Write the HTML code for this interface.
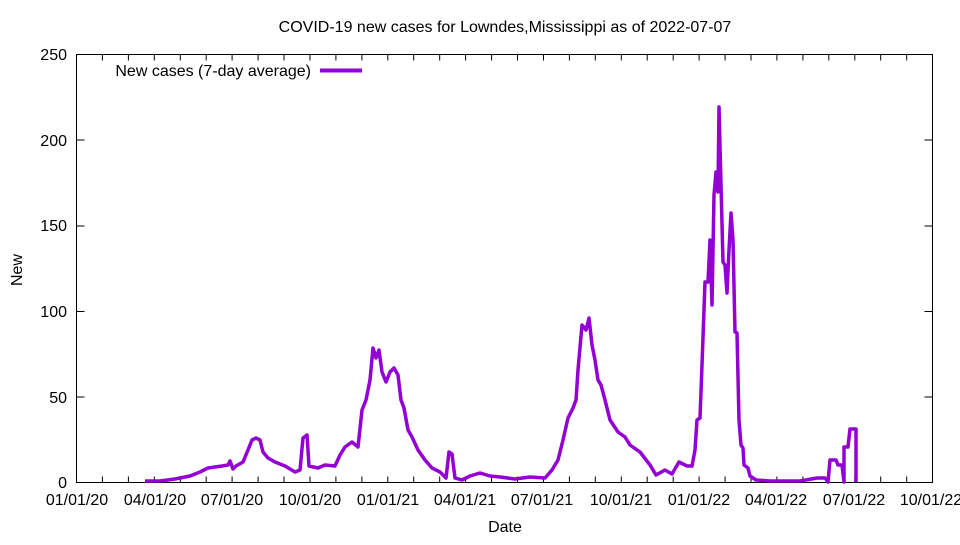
<!DOCTYPE html>
<html><head><style>body{margin:0;background:#fff}</style></head><body>
<svg width="960" height="540" xmlns="http://www.w3.org/2000/svg" font-family="Liberation Sans, sans-serif" font-size="16">
<rect width="960" height="540" fill="#fff"/>
<text x="505" y="32" text-anchor="middle">COVID-19 new cases for Lowndes,Mississippi as of 2022-07-07</text>
<g stroke="#000" stroke-width="1">
<rect x="76.5" y="54.5" width="856" height="428" fill="none"/>
<path d="M76.5 397h8M76.5 311.5h8M76.5 226h8M76.5 140h8M932.5 397h-8M932.5 311.5h-8M932.5 226h-8M932.5 140h-8"/>
<path d="M102.4 482.5v-6M128.4 482.5v-6M154.3 482.5v-6M180.3 482.5v-6M206.2 482.5v-6M232.1 482.5v-6M258.1 482.5v-6M284 482.5v-6M310 482.5v-6M335.9 482.5v-6M361.9 482.5v-6M387.8 482.5v-6M413.7 482.5v-6M439.7 482.5v-6M465.6 482.5v-6M491.6 482.5v-6M517.5 482.5v-6M543.5 482.5v-6M569.4 482.5v-6M595.3 482.5v-6M621.3 482.5v-6M647.2 482.5v-6M673.2 482.5v-6M699.1 482.5v-6M725.1 482.5v-6M751 482.5v-6M776.9 482.5v-6M802.9 482.5v-6M828.8 482.5v-6M854.8 482.5v-6M880.7 482.5v-6M906.7 482.5v-6"/>
<path d="M102.4 54.5v6M128.4 54.5v6M154.3 54.5v6M180.3 54.5v6M206.2 54.5v6M232.1 54.5v6M258.1 54.5v6M284 54.5v6M310 54.5v6M335.9 54.5v6M361.9 54.5v6M387.8 54.5v6M413.7 54.5v6M439.7 54.5v6M465.6 54.5v6M491.6 54.5v6M517.5 54.5v6M543.5 54.5v6M569.4 54.5v6M595.3 54.5v6M621.3 54.5v6M647.2 54.5v6M673.2 54.5v6M699.1 54.5v6M725.1 54.5v6M751 54.5v6M776.9 54.5v6M802.9 54.5v6M828.8 54.5v6M854.8 54.5v6M880.7 54.5v6M906.7 54.5v6"/>
</g>
<g text-anchor="end">
<text x="67" y="488">0</text><text x="67" y="403">50</text><text x="67" y="317">100</text><text x="67" y="231">150</text><text x="67" y="146">200</text><text x="67" y="60">250</text>
</g>
<g text-anchor="middle">
<text x="77" y="505">01/01/20</text><text x="155" y="505">04/01/20</text><text x="232" y="505">07/01/20</text><text x="310" y="505">10/01/20</text><text x="388" y="505">01/01/21</text><text x="465" y="505">04/01/21</text><text x="542" y="505">07/01/21</text><text x="621" y="505">10/01/21</text><text x="699" y="505">01/01/22</text><text x="776" y="505">04/01/22</text><text x="854" y="505">07/01/22</text><text x="931" y="505">10/01/22</text>
<text x="505" y="532">Date</text>
<text x="22" y="270" transform="rotate(-90 22 270)">New</text>
</g>
<text x="311" y="76" text-anchor="end">New cases (7-day average)</text>
<line x1="320" y1="70.5" x2="362" y2="70.5" stroke="#9400D3" stroke-width="4"/>
<polyline fill="none" stroke="#9400D3" stroke-width="3.5" stroke-linejoin="round" points="145,481 160,481 175,479 190,476 200,472 208,468 215,467 222,466 228,465 230,461 233,469 236,466 243,462 248,450 252,440 256,438 260,440 263,452 268,458 275,462 285,466 295,472 300,470 303,438 307,435 309,466 318,468 325,465 335,466 340,455 345,447 352,442 358,447 362,410 366,400 370,380 373,348 376,358 379,350 382,372 386,382 390,372 394,368 398,375 401,400 404,408 408,430 412,437 418,450 425,460 432,468 440,472 446,478 449,452 452,454 455,478 462,480 470,476 480,473 490,476 500,477 515,479 530,477 545,478 552,470 558,460 563,440 568,418 573,408 576,400 578,370 582,325 586,330 589,318 592,345 595,360 598,380 601,385 605,400 610,420 618,432 625,437 630,445 640,452 650,465 656,475 665,470 672,474 679,462 687,466 692,466 695,450 697,420 700,418 702,365 705,282 708,282 710,240 712,305 714,195 716,172 718,192 719,107 721,185 723,262 725,265 727,293 729,250 731,213 733,240 735,332 737,333 739,420 741,445 743,448 744,465 748,468 750,476 756,480 770,481 790,481 800,481 817,478 825,478 828,482 830,460 836,460 838,465 842,465 844,482 844,447 848,447 850,429 856,429 856,482"/>
</svg>
</body></html>
